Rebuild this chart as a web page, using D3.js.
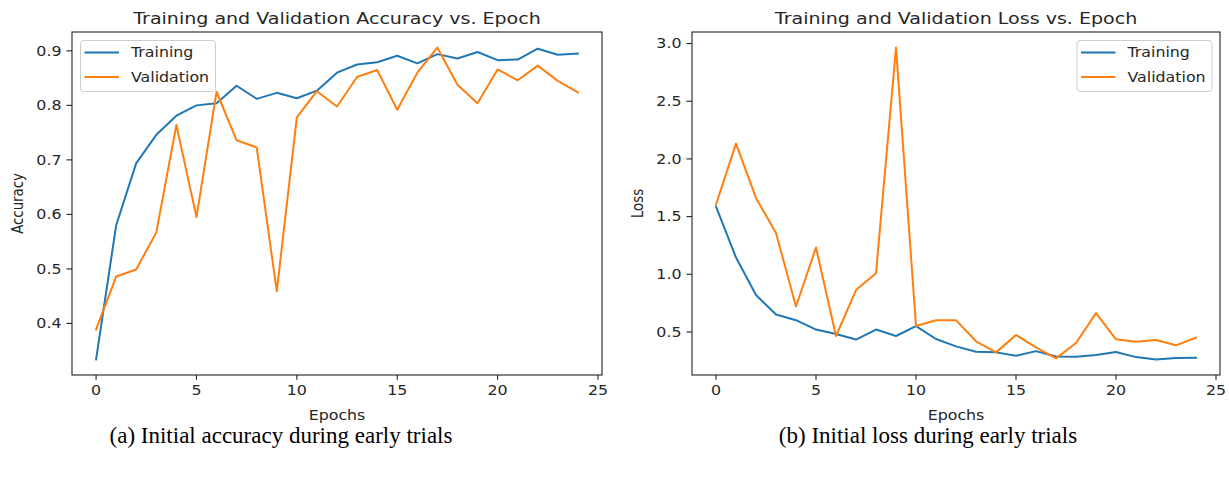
<!DOCTYPE html>
<html>
<head>
<meta charset="utf-8">
<script src="https://cdn.jsdelivr.net/npm/d3@7"></script>
<style>
  body { margin: 0; background: #fff; }
  svg { display: block; }
  text { font-family: "DejaVu Sans", sans-serif; fill: #262626; }
  .caption { font-family: "Liberation Serif", serif; fill: #000; }
</style>
</head>
<body>
<div id="chart"></div>
<script>
// epochs 0..24
const epochs = d3.range(25);

const accTrain = [0.334, 0.580, 0.694, 0.746, 0.781, 0.800, 0.804, 0.836, 0.812, 0.823,
                  0.813, 0.827, 0.860, 0.875, 0.879, 0.891, 0.877, 0.894, 0.886, 0.898,
                  0.883, 0.884, 0.904, 0.893, 0.895];
const accVal = [0.389, 0.486, 0.499, 0.567, 0.764, 0.595, 0.825, 0.736, 0.723, 0.459,
                0.778, 0.826, 0.798, 0.852, 0.865, 0.792, 0.860, 0.906, 0.838, 0.804,
                0.866, 0.846, 0.873, 0.845, 0.824];

const lossTrain = [1.586, 1.145, 0.820, 0.652, 0.602, 0.521, 0.483, 0.434, 0.521, 0.465,
                   0.550, 0.439, 0.375, 0.329, 0.323, 0.294, 0.334, 0.288, 0.285, 0.300,
                   0.326, 0.282, 0.262, 0.274, 0.277];
const lossVal = [1.604, 2.132, 1.662, 1.357, 0.721, 1.232, 0.465, 0.863, 1.009, 2.965,
                 0.552, 0.602, 0.602, 0.419, 0.323, 0.474, 0.367, 0.271, 0.404, 0.663,
                 0.436, 0.416, 0.430, 0.384, 0.451];

const xTicks = [0, 5, 10, 15, 20, 25];
const accTicks = [0.4, 0.5, 0.6, 0.7, 0.8, 0.9];
const lossTicks = [0.5, 1.0, 1.5, 2.0, 2.5, 3.0];
const seriesNames = ["Training", "Validation"];
const colors = ["#1f77b4", "#ff7f0e"];

const W = 1229, H = 479;
const SX = 1.19; // the original figure is stretched sideways

const svg = d3.select("#chart").append("svg")
    .attr("width", W).attr("height", H);

// stretched text helper
function stext(parent, x, y, str, size, anchor, extra) {
  const g = parent.append("g")
      .attr("transform", `translate(${x},${y}) scale(${SX},1)` + (extra || ""));
  return g.append("text")
      .attr("text-anchor", anchor || "start")
      .style("font-size", size + "px")
      .text(str);
}

function padded(vals) {
  const lo = d3.min(vals), hi = d3.max(vals);
  const m = (hi - lo) * 0.05;
  return [lo - m, hi + m];
}

function panel(o) {
  const g = svg.append("g");
  const x = d3.scaleLinear().domain([-1.2, 25.2]).range([o.x0, o.x1]);
  const y = d3.scaleLinear().domain(padded(o.series.flat())).range([o.y1, o.y0]);

  const line = d3.line().x((d, i) => x(epochs[i])).y(d => y(d));
  o.series.forEach((s, i) => {
    g.append("path")
        .attr("d", line(s))
        .attr("fill", "none")
        .attr("stroke", colors[i])
        .attr("stroke-width", 2)
        .attr("stroke-linejoin", "round")
        .attr("stroke-linecap", "square");
  });

  // frame
  g.append("rect")
      .attr("x", o.x0).attr("y", o.y0)
      .attr("width", o.x1 - o.x0).attr("height", o.y1 - o.y0)
      .attr("fill", "none").attr("stroke", "#222").attr("stroke-width", 1.1);

  // x ticks
  xTicks.forEach(t => {
    g.append("line")
        .attr("x1", x(t)).attr("x2", x(t))
        .attr("y1", o.y1).attr("y2", o.y1 + 4.7)
        .attr("stroke", "#222").attr("stroke-width", 1.1);
    stext(g, x(t), o.y1 + 19.5, String(t), 13.3, "middle");
  });
  // y ticks
  o.yTicks.forEach(t => {
    g.append("line")
        .attr("x1", o.x0 - 5.5).attr("x2", o.x0)
        .attr("y1", y(t)).attr("y2", y(t))
        .attr("stroke", "#222").attr("stroke-width", 1.1);
    stext(g, o.x0 - 10.5, y(t) + 4.8, d3.format(".1f")(t), 13.3, "end");
  });

  stext(g, (o.x0 + o.x1) / 2, o.y0 - 8.5, o.title, 16, "middle");
  stext(g, (o.x0 + o.x1) / 2, o.y1 + 45, "Epochs", 13.3, "middle");
  stext(g, o.yLabelX, (o.y0 + o.y1) / 2, o.yLabel, 13.3, "middle", " rotate(-90)");

  // legend
  const L = o.legend;
  g.append("rect")
      .attr("x", L.x).attr("y", L.y).attr("width", L.w).attr("height", L.h)
      .attr("rx", 3)
      .attr("fill", "#fff").attr("fill-opacity", 0.8)
      .attr("stroke", "#ccc").attr("stroke-width", 1);
  seriesNames.forEach((n, i) => {
    const ly = L.y + 12 + i * 24.4;
    g.append("line")
        .attr("x1", L.x + 4).attr("x2", L.x + 38.5)
        .attr("y1", ly).attr("y2", ly)
        .attr("stroke", colors[i]).attr("stroke-width", 2);
    stext(g, L.x + 50.5, ly + 4.8, n, 13.3, "start");
  });

  svg.append("text")
      .attr("class", "caption")
      .attr("x", o.capX).attr("y", 443)
      .attr("text-anchor", "middle")
      .style("font-size", "23px")
      .text(o.caption);
}

panel({
  x0: 72, x1: 602, y0: 32, y1: 375,
  series: [accTrain, accVal], yTicks: accTicks,
  title: "Training and Validation Accuracy vs. Epoch",
  yLabel: "Accuracy", yLabelX: 23,
  legend: { x: 80.5, y: 40.5, w: 135, h: 51 },
  caption: "(a) Initial accuracy during early trials", capX: 281
});

panel({
  x0: 692, x1: 1220, y0: 32, y1: 375,
  series: [lossTrain, lossVal], yTicks: lossTicks,
  title: "Training and Validation Loss vs. Epoch",
  yLabel: "Loss", yLabelX: 643,
  legend: { x: 1077, y: 40.5, w: 135, h: 51 },
  caption: "(b) Initial loss during early trials", capX: 928
});
</script>
</body>
</html>
